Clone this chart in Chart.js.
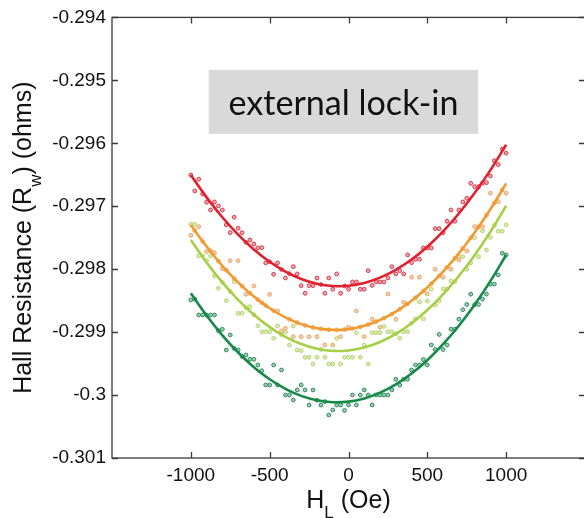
<!DOCTYPE html>
<html><head><meta charset="utf-8">
<script src="https://cdn.jsdelivr.net/npm/chart.js@4.4.1/dist/chart.umd.min.js"></script>
<style>html,body{margin:0;padding:0;background:#fff;overflow:hidden;width:584px;height:518px}canvas{display:block}</style>
</head><body>
<canvas id="c" width="600" height="518" style="width:600px;height:518px"></canvas>
<script>
// Field values (Oe) of the measured points
const H = [-1000,-975,-950,-925,-900,-875,-850,-825,-800,-775,-750,-725,-700,-675,-650,-625,-600,-575,-550,-525,
-500,-475,-450,-425,-400,-375,-350,-325,-300,-275,-250,-225,-200,-175,-150,-125,-100,-75,-50,-25,
0,25,50,75,100,125,150,175,200,225,250,275,300,325,350,375,400,425,450,475,
500,525,550,575,600,625,650,675,700,725,750,775,800,825,850,875,900,925,950,975,1000];

const RED = [-0.296503,-0.296757,-0.296571,-0.296805,-0.296937,-0.297059,-0.296932,-0.296995,-0.297059,-0.297297,
-0.297420,-0.297175,-0.297350,-0.297420,-0.297574,-0.297536,-0.297599,-0.297663,-0.297658,-0.297901,
-0.297883,-0.298081,-0.297901,-0.298004,-0.298140,-0.298072,-0.297960,-0.298076,-0.298262,-0.298383,
-0.298262,-0.298262,-0.298140,-0.298244,-0.298383,-0.298140,-0.298319,-0.298076,-0.298383,-0.298267,
-0.298319,-0.298203,-0.298203,-0.298319,-0.298319,-0.298024,-0.298259,-0.298203,-0.298203,-0.298203,
-0.298140,-0.297960,-0.298076,-0.298024,-0.298076,-0.297774,-0.297896,-0.297842,-0.297842,-0.297663,
-0.297663,-0.297663,-0.297356,-0.297356,-0.297420,-0.297239,-0.297059,-0.297239,-0.297059,-0.296932,
-0.296873,-0.296635,-0.296689,-0.296689,-0.296635,-0.296625,-0.296519,-0.296276,-0.296339,-0.296094,
-0.296158];

const ORANGE = [-0.297461,-0.297387,-0.297324,-0.297559,-0.297722,-0.297706,-0.297738,-0.297873,-0.297992,-0.298016,
-0.297865,-0.298148,-0.297865,-0.298270,-0.298399,-0.298383,-0.298267,-0.298486,-0.298533,-0.298578,
-0.298399,-0.298661,-0.298664,-0.298982,-0.298939,-0.298797,-0.299072,-0.298850,-0.299072,-0.298893,
-0.299072,-0.298926,-0.299072,-0.298949,-0.299204,-0.298962,-0.299204,-0.298966,-0.299072,-0.298959,
-0.298923,-0.298943,-0.298664,-0.298916,-0.299072,-0.298880,-0.298796,-0.298834,-0.298923,-0.298778,
-0.298394,-0.298712,-0.298796,-0.298636,-0.298526,-0.298550,-0.298128,-0.298454,-0.298128,-0.298348,
-0.298394,-0.298232,-0.298001,-0.298107,-0.298128,-0.297971,-0.298001,-0.297826,-0.297854,-0.297670,
-0.297711,-0.297505,-0.297324,-0.297329,-0.297324,-0.297144,-0.296794,-0.296949,-0.296927,-0.296744,
-0.296794];

const YGREEN = [-0.297286,-0.297286,-0.297790,-0.297790,-0.297865,-0.297790,-0.298108,-0.298303,-0.298211,-0.298500,
-0.298355,-0.298198,-0.298701,-0.298701,-0.298611,-0.298596,-0.298724,-0.298898,-0.298993,-0.298993,
-0.298993,-0.299098,-0.298902,-0.299040,-0.298993,-0.299204,-0.298902,-0.299284,-0.299295,-0.299400,
-0.299400,-0.299506,-0.299400,-0.299276,-0.299400,-0.299506,-0.299506,-0.299101,-0.299506,-0.299400,
-0.299400,-0.299400,-0.299009,-0.299400,-0.299204,-0.299506,-0.299009,-0.299009,-0.299009,-0.298910,
-0.298993,-0.298993,-0.299027,-0.299098,-0.298993,-0.298993,-0.298858,-0.298791,-0.298521,-0.298791,
-0.298505,-0.298319,-0.298569,-0.298505,-0.298314,-0.298314,-0.298187,-0.298198,-0.297801,-0.297801,
-0.297997,-0.297901,-0.297499,-0.297801,-0.297393,-0.297695,-0.297496,-0.297306,-0.297398,-0.297398,
-0.297297];

const GREEN = [-0.298489,-0.298475,-0.298728,-0.298728,-0.298728,-0.298728,-0.298728,-0.298976,-0.298955,-0.299284,
-0.299045,-0.299259,-0.299284,-0.299386,-0.299363,-0.299431,-0.299431,-0.299522,-0.299613,-0.299840,
-0.299840,-0.299522,-0.299840,-0.299602,-0.299999,-0.299999,-0.300078,-0.299919,-0.299840,-0.299919,
-0.300158,-0.299919,-0.300083,-0.300158,-0.300104,-0.300317,-0.300237,-0.300158,-0.300158,-0.300245,
-0.300158,-0.299999,-0.300158,-0.299999,-0.299919,-0.299999,-0.300158,-0.299999,-0.299999,-0.299999,
-0.299999,-0.299919,-0.299749,-0.299840,-0.299749,-0.299749,-0.299602,-0.299522,-0.299522,-0.299435,
-0.299522,-0.299204,-0.299276,-0.299037,-0.299276,-0.299204,-0.298953,-0.298953,-0.298794,-0.298643,
-0.298561,-0.298397,-0.298565,-0.298561,-0.298476,-0.298397,-0.298238,-0.298238,-0.298092,-0.297747,
-0.297774];

// Fitted curves, sampled every 100 Oe
const FIT_H = [-1000,-900,-800,-700,-600,-500,-400,-300,-200,-100,0,100,200,300,400,500,600,700,800,900,1000];
const RED_FIT = [-0.296503,-0.296859,-0.297175,-0.297451,-0.297687,-0.297883,-0.298039,-0.298155,-0.298231,-0.298267,-0.298263,-0.298219,-0.298135,-0.298011,-0.297847,-0.297643,-0.297399,-0.297115,-0.296791,-0.296427,-0.296023];
const ORANGE_FIT = [-0.297297,-0.297641,-0.297946,-0.298210,-0.298435,-0.298621,-0.298767,-0.298873,-0.298939,-0.298965,-0.298952,-0.298900,-0.298807,-0.298675,-0.298503,-0.298291,-0.298040,-0.297749,-0.297418,-0.297048,-0.296638];
const YGREEN_FIT = [-0.297536,-0.297894,-0.298211,-0.298488,-0.298724,-0.298920,-0.299075,-0.299190,-0.299264,-0.299298,-0.299291,-0.299243,-0.299156,-0.299027,-0.298858,-0.298649,-0.298399,-0.298108,-0.297777,-0.297406,-0.296993];
const GREEN_FIT = [-0.298382,-0.298737,-0.299051,-0.299324,-0.299557,-0.299749,-0.299901,-0.300013,-0.300083,-0.300114,-0.300104,-0.300053,-0.299962,-0.299830,-0.299658,-0.299446,-0.299192,-0.298899,-0.298565,-0.298190,-0.297775];

const X_TICKS = [-1000,-500,0,500,1000];
const X_LABELS = ['-1000','-500','0','500','1000'];
const Y_TICKS = [-0.301,-0.300,-0.299,-0.298,-0.297,-0.296,-0.295,-0.294];
const Y_LABELS = ['-0.301','-0.3','-0.299','-0.298','-0.297','-0.296','-0.295','-0.294'];
const ANNOTATION = 'external lock-in';

const pts = (xs, ys) => xs.map((v,i) => ({x:v, y:ys[i]}));

const series = [
  {vals:RED, fit:RED_FIT, line:'#e41f2d', dot:'#d33a4c', fill:'#f2a9b2'},
  {vals:ORANGE, fit:ORANGE_FIT, line:'#f29a2e', dot:'#e9a364', fill:'#f7d2ad'},
  {vals:YGREEN, fit:YGREEN_FIT, line:'#a7cf45', dot:'#b6d46e', fill:'#dcebb8'},
  {vals:GREEN, fit:GREEN_FIT, line:'#148a49', dot:'#2f8a5f', fill:'#9fcdb4'}
];

const datasets = [];
series.forEach(s => {
  datasets.push({type:'line', data:pts(FIT_H, s.fit), borderColor:s.line, borderWidth:2.6,
    pointRadius:0, fill:false, tension:0.4, order:0});
});
series.forEach(s => {
  datasets.push({type:'scatter', data:pts(H, s.vals), borderColor:s.dot, backgroundColor:s.fill,
    borderWidth:1, pointRadius:1.9, showLine:false, order:1});
});

const deco = {
  id:'deco',
  beforeDatasetsDraw(chart){
    const {ctx, scales:{x,y}} = chart;
    const x0 = x.getPixelForValue(-886), x1 = x.getPixelForValue(823);
    const y0 = y.getPixelForValue(-0.294834), y1 = y.getPixelForValue(-0.295851);
    ctx.save();
    ctx.fillStyle = '#d9d9d9';
    ctx.fillRect(x0, y0, x1-x0, y1-y0);
    let fs = 30;
    ctx.font = fs + 'px Lato';
    const w = ctx.measureText(ANNOTATION).width;
    fs = fs * 230 / w;
    ctx.font = fs + 'px Lato';
    ctx.fillStyle = '#111';
    ctx.textAlign = 'center';
    ctx.textBaseline = 'alphabetic';
    ctx.fillText(ANNOTATION, (x0+x1)/2, y0 + 45);
    ctx.restore();
  },
  afterDraw(chart){
    const {ctx, chartArea:a, scales:{x,y}} = chart;
    ctx.save();
    ctx.strokeStyle = '#3a3a3a';
    ctx.lineWidth = 1.3;
    ctx.strokeRect(a.left, a.top, a.right-a.left, a.bottom-a.top);
    ctx.beginPath();
    X_TICKS.forEach(v => {
      const px = Math.round(x.getPixelForValue(v)) + 0.5;
      ctx.moveTo(px, a.bottom); ctx.lineTo(px, a.bottom-6);
      ctx.moveTo(px, a.top); ctx.lineTo(px, a.top+6);
    });
    Y_TICKS.forEach(v => {
      const py = Math.round(y.getPixelForValue(v)) + 0.5;
      ctx.moveTo(a.left, py); ctx.lineTo(a.left+6, py);
      ctx.moveTo(a.right, py); ctx.lineTo(a.right-6, py);
    });
    ctx.stroke();

    // axis titles with subscripts
    const main = '25px "Liberation Sans", Arial, sans-serif';
    const sub = '17px "Liberation Sans", Arial, sans-serif';
    const drawParts = (parts, cx, cy, rot) => {
      ctx.save();
      ctx.translate(cx, cy);
      ctx.rotate(rot);
      ctx.fillStyle = '#111';
      ctx.textBaseline = 'alphabetic';
      ctx.textAlign = 'left';
      let total = 0;
      parts.forEach(p => { ctx.font = p.sub ? sub : main; p.w = ctx.measureText(p.t).width; total += p.w; });
      let xx = -total/2;
      parts.forEach(p => { ctx.font = p.sub ? sub : main; ctx.fillText(p.t, xx, p.sub ? 10 : 0); xx += p.w; });
      ctx.restore();
    };
    drawParts([{t:'H'},{t:'L',sub:true},{t:' (Oe)'}], (a.left+a.right)/2, 508, 0);
    drawParts([{t:'Hall Resistance (R'},{t:'w',sub:true},{t:') (ohms)'}], 31, (a.top+a.bottom)/2, -Math.PI/2);
    ctx.restore();
  }
};

const tickFont = {family:'"Liberation Sans", Arial, sans-serif', size:19};

new Chart(document.getElementById('c'), {
  type:'scatter',
  data:{datasets},
  options:{
    responsive:false, animation:false, events:[],
    layout:{padding:{left:0, right:15, top:17, bottom:0}},
    plugins:{legend:{display:false}, tooltip:{enabled:false}},
    scales:{
      x:{type:'linear', min:-1500, max:1500,
        grid:{display:false, drawTicks:false}, border:{display:false},
        afterBuildTicks:s => { s.ticks = X_TICKS.map(v => ({value:v})); },
        afterFit:s => { s.height = 60; },
        ticks:{autoSkip:false, maxRotation:0, padding:6, color:'#111', font:tickFont,
          callback:v => X_LABELS[X_TICKS.indexOf(v)]}},
      y:{type:'linear', min:-0.301, max:-0.294,
        grid:{display:false, drawTicks:false}, border:{display:false},
        afterBuildTicks:s => { s.ticks = Y_TICKS.map(v => ({value:v})); },
        afterFit:s => { s.width = 112; },
        ticks:{autoSkip:false, padding:6, color:'#111', font:tickFont,
          callback:v => { const i = Y_TICKS.findIndex(t => Math.abs(t-v) < 1e-9); return i >= 0 ? Y_LABELS[i] : ''; }}}
    }
  },
  plugins:[deco]
});
</script>
</body></html>
